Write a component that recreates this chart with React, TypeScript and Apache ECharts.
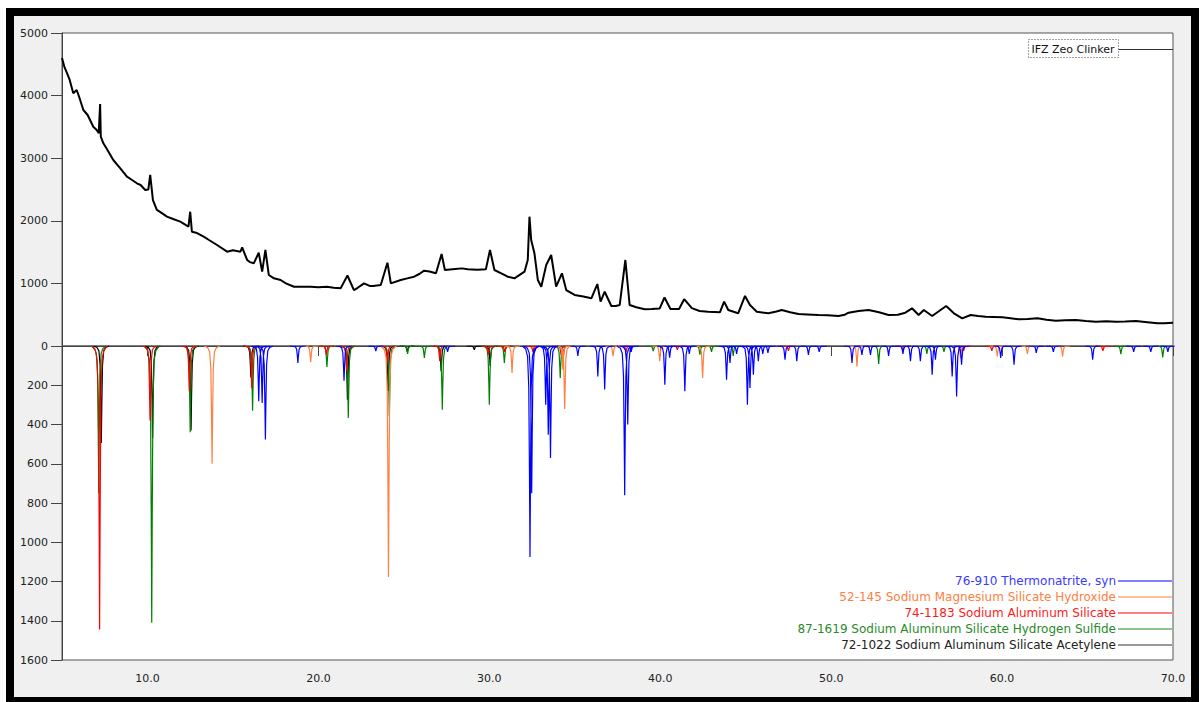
import React, { useEffect, useRef } from "react";
import * as echarts from "echarts";

// ---- Measured pattern (top panel) ----
const twoTheta = [
  5.0, 5.15, 5.3, 5.45, 5.66, 5.86, 6.0, 6.25, 6.5, 6.83, 7.03, 7.15, 7.23, 7.27, 7.42, 7.6, 8.0, 8.4, 8.8, 9.1,
  9.38, 9.6, 9.87, 10.05, 10.16, 10.32, 10.55, 10.8, 11.14, 11.5, 11.92, 12.4, 12.5, 12.6, 12.9, 13.29, 13.6,
  14.07, 14.66, 15.0, 15.44, 15.54, 15.83, 16.0, 16.22, 16.51, 16.71, 16.9, 17.1, 17.4, 17.79, 18.1, 18.57,
  19.55, 20.0, 20.5, 20.9, 21.3, 21.7, 22.08, 22.3, 22.67, 23.0, 23.2, 23.65, 24.04, 24.24, 24.82, 25.2, 25.6,
  25.9, 26.19, 26.5, 26.88, 27.21, 27.4, 28.0, 28.4, 28.73, 29.3, 29.8, 30.04, 30.3, 30.7, 31.08, 31.47, 32.06,
  32.25, 32.35, 32.45, 32.64, 32.84, 33.04, 33.33, 33.62, 33.91, 34.25, 34.5, 34.99, 35.5, 35.97, 36.32, 36.51,
  36.75, 37.14, 37.4, 37.63, 37.96, 38.21, 38.6, 39.1, 39.5, 39.97, 40.25, 40.6, 41.1, 41.4, 41.85, 42.3, 42.8,
  43.49, 43.74, 43.98, 44.56, 44.96, 45.25, 45.65, 46.33, 46.8, 47.11, 47.6, 48.09, 48.6, 49.26, 49.8, 50.43,
  50.8, 51.02, 51.6, 52.19, 52.8, 53.36, 53.9, 54.34, 54.73, 55.12, 55.42, 55.91, 56.4, 56.73, 57.18, 57.67,
  58.16, 58.6, 59.04, 59.5, 60.02, 60.5, 61.0, 61.5, 62.07, 62.6, 63.14, 63.7, 64.32, 64.9, 65.49, 66.1, 66.66,
  67.2, 67.83, 68.5, 69.1, 69.5, 70.0,
];
const counts = [
  4600, 4450, 4356, 4250, 4037, 4090, 3982, 3770, 3690, 3503, 3450, 3400, 3866, 3344, 3238, 3158, 2971, 2843, 2705, 2652,
  2599, 2572, 2492, 2500, 2732, 2332, 2173, 2130, 2066, 2029, 1986, 1906, 2145, 1826, 1805, 1746, 1693,
  1613, 1507, 1530, 1507, 1577, 1374, 1340, 1321, 1490, 1187, 1534, 1134, 1081, 1054, 1001, 947,
  947, 940, 947, 930, 921, 1126, 894, 930, 1001, 960, 960, 974, 1331, 1001, 1054, 1080, 1107,
  1150, 1203, 1190, 1161, 1470, 1214, 1230, 1240, 1225, 1220, 1225, 1534, 1214, 1160, 1107, 1081, 1187,
  1374, 2066, 1693, 1481, 1054, 947, 1294, 1454, 947, 1161, 894, 815, 790, 762, 990, 708,
  867, 639, 640, 655, 1374, 655, 620, 586, 590, 600, 775, 590, 590, 748, 605, 560, 548,
  538, 708, 575, 522, 799, 655, 548, 522, 550, 575, 540, 511, 505, 495, 490, 479,
  500, 532, 560, 575, 540, 495, 500, 532, 602, 495, 575, 479, 575, 639, 522, 442,
  495, 480, 468, 465, 458, 445, 426, 430, 442, 420, 404, 410, 415, 400, 388, 395, 388,
  390, 399, 380, 362, 365, 370,
];

// ---- Reference patterns (bottom panel): [2θ, intensity] ----
const thermonatritePeaks: [number, number][] = [
  [16.51, 281], [16.71, 290], [16.9, 477], [18.8, 87], [21.5, 177], [23.36, 26], [27.56, 30], [32.38, 1075],
  [32.48, 750], [33.3, 299], [33.45, 452], [33.58, 571], [35.18, 51], [36.35, 155], [36.75, 222], [37.92, 760],
  [38.1, 400], [38.3, 30], [40.27, 197], [40.55, 60], [41.44, 231], [41.7, 40], [43.88, 172], [44.08, 87],
  [44.47, 40], [45.1, 299], [45.25, 214], [45.45, 146], [45.74, 78], [46.0, 40], [46.3, 35], [47.3, 70],
  [47.99, 78], [48.67, 45], [49.3, 30], [51.22, 87], [51.8, 45], [52.3, 45], [53.36, 50], [54.2, 40],
  [54.64, 78], [55.22, 78], [55.91, 146], [56.1, 70], [57.08, 155], [57.34, 257], [57.63, 95], [59.92, 61],
  [60.7, 95], [62.0, 35], [63.0, 30], [65.3, 70], [67.7, 30], [68.7, 30], [69.7, 30],
];
const sodiumMgSilicatePeaks: [number, number][] = [
  [13.78, 600], [19.55, 82], [24.1, 1177], [31.33, 138], [34.3, 120], [34.41, 321], [37.24, 52], [39.97, 78],
  [42.48, 163], [51.51, 104], [57.57, 61], [59.72, 53], [61.48, 40], [63.54, 53],
];
const sodiumAlSilicatePeaks: [number, number][] = [
  [7.2, 1445], [10.15, 380], [12.45, 230], [16.1, 215], [20.47, 44], [21.65, 128], [24.05, 77], [27.1, 78],
  [29.95, 44], [30.9, 30], [32.55, 30], [34.2, 44], [38.0, 30], [41.0, 20], [47.5, 25], [54.2, 25], [57.75, 25],
  [59.4, 25], [65.9, 25],
];
const hydrogenSulfidePeaks: [number, number][] = [
  [7.15, 750], [10.25, 1410], [12.5, 440], [16.15, 330], [20.5, 107], [21.75, 367], [24.15, 357], [25.22, 40],
  [26.2, 61], [27.25, 325], [30.0, 299], [30.88, 87], [34.15, 163], [39.59, 26], [42.32, 44], [43.0, 30],
  [44.27, 50], [52.78, 92], [55.6, 40], [56.6, 30], [66.95, 41], [69.4, 58],
];
const acetylenePeaks: [number, number][] = [
  [7.3, 494], [10.3, 470], [12.55, 430], [16.05, 160], [21.7, 274], [24.08, 229], [25.2, 30], [27.18, 128],
  [29.12, 20], [30.05, 102], [34.3, 95],
];

const xTickValues = [10, 20, 30, 40, 50, 60, 70];
const sampleName = "IFZ Zeo Clinker";
const phaseNames = [
  "76-910 Thermonatrite, syn",
  "52-145 Sodium Magnesium Silicate Hydroxide",
  "74-1183 Sodium Aluminum Silicate",
  "87-1619 Sodium Aluminum Silicate Hydrogen Sulfide",
  "72-1022 Sodium Aluminum Silicate Acetylene",
];
const phaseColors = ["#0000ff", "#ff8040", "#ff0000", "#008000", "#000000"];
const phaseTextColors = ["#3a3aff", "#ff8040", "#ff1a1a", "#2a8a2a", "#222222"];
const phaseLineColors = ["#0000ff", "#ff8040", "#ff0000", "#1a8a1a", "#333333"];
const phasePeaks = [thermonatritePeaks, sodiumMgSilicatePeaks, sodiumAlSilicatePeaks, hydrogenSulfidePeaks, acetylenePeaks];

// shape of one stick peak (offset in 2θ, fraction of peak height)
const peakShape: [number, number][] = [
  [-0.45, 0], [-0.25, 0.015], [-0.14, 0.05], [-0.07, 0.2], [-0.03, 0.6], [0, 1],
  [0.03, 0.6], [0.07, 0.2], [0.14, 0.05], [0.25, 0.015], [0.45, 0],
];

function buildPeakLine(peaks: [number, number][]) {
  const out: any[] = [];
  peaks.forEach(([p, h]) => {
    peakShape.forEach(([dx, f]) => out.push([p + dx, h * f]));
    out.push([p, "-"]);
  });
  return out;
}

const FONT = "DejaVu Sans";

export default function App() {
  const ref = useRef<HTMLDivElement>(null);
  useEffect(() => {
    const chart = echarts.init(ref.current!, null, { renderer: "svg" });
    const axisLabelStyle = { fontFamily: FONT, fontSize: 11, color: "#222" };
    const drawOrder = [4, 3, 2, 1, 0];
    const legendGraphics: any[] = [];
    phaseNames.forEach((name, i) => {
      const y = 580.5 + 16 * i;
      legendGraphics.push({
        type: "text",
        x: 1116,
        y,
        z: 100,
        style: {
          text: name,
          fill: phaseTextColors[i],
          font: `12px "${FONT}"`,
          textAlign: "right",
          textVerticalAlign: "middle",
          align: "right",
          verticalAlign: "middle",
        },
      });
      legendGraphics.push({
        type: "line",
        z: 100,
        shape: { x1: 1118, y1: y + 0.5, x2: 1172, y2: y + 0.5 },
        style: { stroke: phaseLineColors[i], lineWidth: 1 },
      });
    });
    chart.setOption({
      animation: false,
      grid: [
        {
          left: 62, top: 33, width: 1111, height: 313, show: true, backgroundColor: "#fff",
          borderColor: "#555", borderWidth: 1, containLabel: false, outerBoundsMode: "none",
        },
        {
          left: 62, top: 346, width: 1111, height: 314, show: true, backgroundColor: "#fff",
          borderColor: "#555", borderWidth: 1, containLabel: false, outerBoundsMode: "none",
        },
      ],
      xAxis: [
        { type: "value", gridIndex: 0, min: 5, max: 70, show: false },
        {
          type: "value", gridIndex: 1, min: 5, max: 70,
          axisLine: { show: true, lineStyle: { color: "#444" } },
          axisTick: { show: true, length: 10, customValues: xTickValues, lineStyle: { color: "#444" } },
          axisLabel: {
            ...axisLabelStyle, margin: 13, customValues: xTickValues,
            formatter: (v: number) => v.toFixed(1),
          },
          splitLine: { show: false },
        },
      ],
      yAxis: [
        {
          type: "value", gridIndex: 0, min: 0, max: 5000, interval: 1000,
          axisLine: { show: true, lineStyle: { color: "#444" } },
          axisTick: { show: true, length: 11, lineStyle: { color: "#444" } },
          axisLabel: { ...axisLabelStyle, margin: 14, showMinLabel: false, formatter: (v: number) => String(v) },
          splitLine: { show: false },
        },
        {
          type: "value", gridIndex: 1, min: 0, max: 1600, interval: 200, inverse: true,
          axisLine: { show: true, lineStyle: { color: "#444" } },
          axisTick: { show: true, length: 11, lineStyle: { color: "#444" } },
          axisLabel: { ...axisLabelStyle, margin: 14, formatter: (v: number) => String(v) },
          splitLine: { show: false },
        },
      ],
      series: [
        {
          name: sampleName,
          type: "line",
          xAxisIndex: 0,
          yAxisIndex: 0,
          data: twoTheta.map((t, i) => [t, counts[i]]),
          showSymbol: false,
          symbol: "none",
          lineStyle: { color: "#000", width: 2 },
          itemStyle: { color: "#000" },
          z: 3,
        },
        ...drawOrder.map((i) => ({
          name: phaseNames[i],
          type: "line",
          xAxisIndex: 1,
          yAxisIndex: 1,
          data: buildPeakLine(phasePeaks[i]),
          showSymbol: false,
          symbol: "none",
          connectNulls: false,
          lineStyle: { color: phaseColors[i], width: 1.2 },
          itemStyle: { color: phaseColors[i] },
          z: 3,
        })),
      ],
      graphic: [
        {
          type: "rect",
          z: 100,
          shape: { x: 1028.5, y: 39.5, width: 90, height: 18 },
          style: { fill: "#fff", stroke: "#444", lineWidth: 1, lineDash: [1, 2] },
        },
        {
          type: "text",
          z: 101,
          x: 1073,
          y: 49,
          style: {
            text: sampleName,
            fill: "#111",
            font: `11px "${FONT}"`,
            textAlign: "center",
            textVerticalAlign: "middle",
            align: "center",
            verticalAlign: "middle",
          },
        },
        {
          type: "line",
          z: 100,
          shape: { x1: 1118.5, y1: 49.5, x2: 1173, y2: 49.5 },
          style: { stroke: "#333", lineWidth: 1 },
        },
        ...legendGraphics,
      ],
    });
    return () => chart.dispose();
  }, []);
  return (
    <div style={{ position: "fixed", left: 0, top: 0, width: 1201, height: 702, background: "#fff", overflow: "hidden" }}>
      <div
        style={{
          position: "absolute", left: 6, top: 8, width: 1193, height: 697, boxSizing: "border-box",
          border: "8px solid #000", background: "#f0f0f0",
        }}
      />
      <div ref={ref} style={{ position: "absolute", left: 0, top: 0, width: 1201, height: 702 }} />
    </div>
  );
}
